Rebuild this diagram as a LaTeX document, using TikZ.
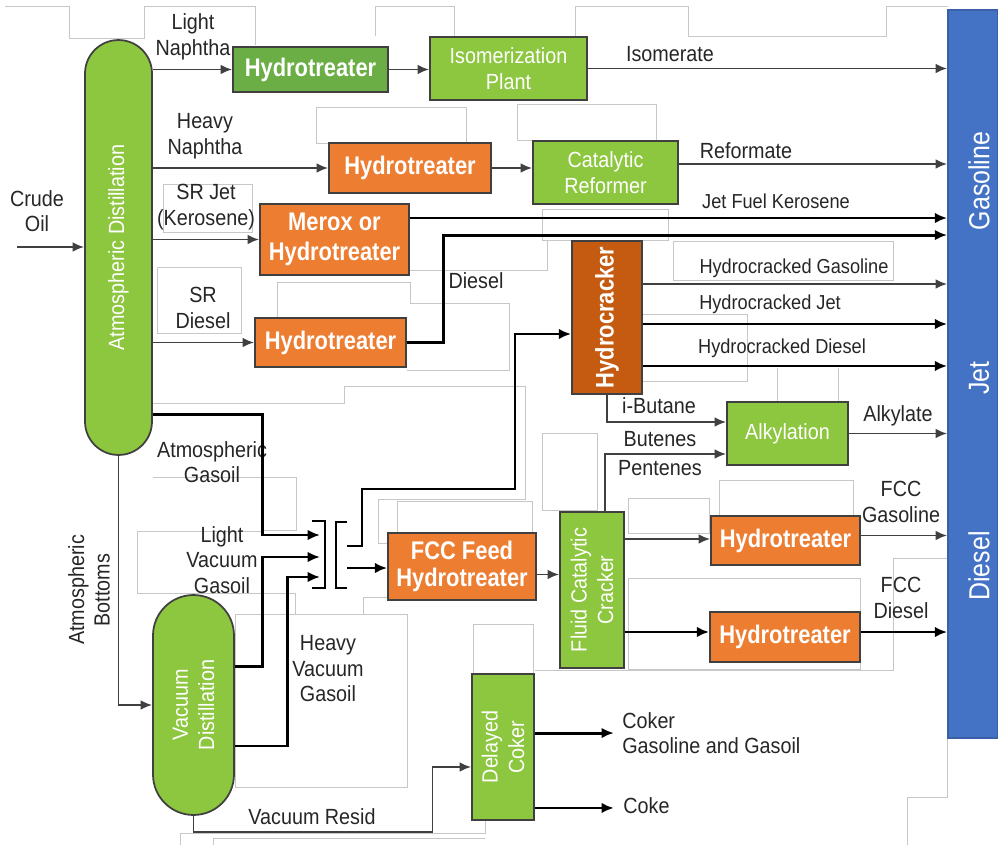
\documentclass[tikz,border=0pt]{standalone}
\usepackage{fontspec}
\setmainfont{Liberation Sans}[FakeStretch=0.9]
\newfontfamily\narrowfont{Liberation Sans}[FakeStretch=0.86]
\usetikzlibrary{arrows.meta}

\definecolor{procgreen}{HTML}{8DC63F}
\definecolor{htgreen}{HTML}{6AAE45}
\definecolor{procorange}{HTML}{ED7D31}
\definecolor{crackbrown}{HTML}{C55A11}
\definecolor{poolblue}{HTML}{4472C4}
\definecolor{edge}{HTML}{404040}

\tikzset{
  unit/.style={draw=edge, line width=1pt, inner sep=0pt, text=white, align=center},
  greenunit/.style={unit, fill=procgreen, font=\fontsize{12.5}{14.5}\selectfont},
  treater/.style={unit, fill=procorange, font=\narrowfont\bfseries\fontsize{14.5}{15.5}\selectfont},
  tower/.style={unit, fill=procgreen, rounded corners=#1},
  vtext/.style={rotate=90, align=center, text=white, font=\fontsize{12.5}{15}\selectfont},
  pooltext/.style={rotate=90, text=white, font=\narrowfont\fontsize{16.5}{18}\selectfont},
  lbl/.style={align=center, text=black!85, inner sep=0pt, font=\fontsize{12.5}{14.5}\selectfont},
  smalllbl/.style={lbl, font=\fontsize{11.5}{13}\selectfont},
  flow/.style={draw=edge, line width=1.1pt, -{Latex[length=6.5pt,width=5.5pt]}},
  mainflow/.style={draw=black, line width=1.7pt, -{Latex[length=7pt,width=6pt]}},
  ghost/.style={draw=black!22, line width=0.5pt},
}

\begin{document}
\begin{tikzpicture}[x=0.02cm, y=-0.02cm]
\useasboundingbox (0,0) rectangle (998,845);

% leftover text frames
\draw[ghost] (5,6) -- (69,6) -- (69,38) -- (144,38) -- (144,6) -- (255,6) -- (255,45);
\draw[ghost] (375,36) -- (375,6) -- (454,6) -- (454,36);
\draw[ghost] (575,36) -- (575,6) -- (688,6) -- (688,36) -- (886,36) -- (886,6) -- (948,6);
\draw[ghost] (316,107) rectangle (466,143);
\draw[ghost] (517,104) rectangle (656,140);
\draw[ghost] (163,184) rectangle (252,232);
\draw[ghost] (157,267) rectangle (241,333);
\draw[ghost] (277,318) -- (277,282) -- (410,282) -- (410,303) -- (509,303) -- (509,370) -- (407,370);
\draw[ghost] (542,209) rectangle (668,240);
\draw[ghost] (410,270) -- (547,270) -- (547,240);
\draw[ghost] (673,241) rectangle (893,280);
\draw[ghost] (642,314) rectangle (747,381);
\draw[ghost] (777,402) -- (777,368);
\draw[ghost] (838,368) -- (838,402);
\draw[ghost] (153,403) -- (344,403) -- (344,386) -- (525,386) -- (525,499) -- (378,499) -- (378,543) -- (388,543);
\draw[ghost] (397,533) -- (397,501) -- (532,501) -- (532,533);
\draw[ghost] (153,477) -- (296,477) -- (296,530) -- (262,530);
\draw[ghost] (262,531) -- (137,531) -- (137,593) -- (295,593) -- (295,614);
\draw[ghost] (235,614) rectangle (407,787);
\draw[ghost] (388,597) -- (363,597) -- (363,614);
\draw[ghost] (542,433) rectangle (597,510);
\draw[ghost] (628,498) rectangle (709,533);
\draw[ghost] (719,480) rectangle (853,516);
\draw[ghost] (628,578) rectangle (860,669);
\draw[ghost] (948,558) -- (893,558) -- (893,670) -- (535,670);
\draw[ghost] (473,674) -- (473,624) -- (533,624) -- (533,674);
\draw[ghost] (947,670) -- (947,797) -- (907,797) -- (907,845);
\draw[ghost] (180,845) -- (180,833) -- (485,833) -- (485,820);
\draw[ghost] (213,845) -- (213,838) -- (485,838);

% process units
\node[tower=0.669cm, minimum width=1.34cm, minimum height=8.3cm,
  label={[vtext]center:Atmospheric Distillation}] (atm) at (118.5,247.5) {};
\node[treater, fill=htgreen, minimum width=3.1cm, minimum height=0.9cm] (ht1) at (310.5,69.5) {Hydrotreater};
\node[greenunit, minimum width=3.14cm, minimum height=1.26cm] (isom) at (508.5,68.5) {Isomerization\\Plant};
\node[treater, minimum width=3.24cm, minimum height=1cm] (ht2) at (410,168) {Hydrotreater};
\node[greenunit, minimum width=2.9cm, minimum height=1.26cm] (reformer) at (605.5,172.5) {Catalytic\\Reformer};
\node[treater, font=\narrowfont\bfseries\fontsize{14.5}{17.5}\selectfont, minimum width=2.98cm, minimum height=1.42cm] (merox) at (334.5,239.5) {Merox or\\Hydrotreater};
\node[treater, minimum width=3.02cm, minimum height=0.98cm] (ht4) at (330.5,342.5) {Hydrotreater};
\node[treater, fill=crackbrown, minimum width=1.4cm, minimum height=3.06cm,
  label={[vtext, font=\narrowfont\bfseries\fontsize{14.5}{16}\selectfont]center:Hydrocracker}] (hcr) at (607,317.5) {};
\node[greenunit, minimum width=2.42cm, minimum height=1.26cm] (alk) at (787.5,433.5) {Alkylation};
\node[treater, minimum width=2.96cm, minimum height=1.34cm] (fccfeed) at (462,566.5) {FCC Feed\\Hydrotreater};
\node[unit, fill=procgreen, minimum width=1.28cm, minimum height=3.12cm,
  label={[vtext]center:Fluid Catalytic\\Cracker}] (fcc) at (592,590) {};
\node[treater, minimum width=2.98cm, minimum height=0.98cm] (htg) at (785.5,540.5) {Hydrotreater};
\node[treater, minimum width=3cm, minimum height=1cm] (htd) at (785,637) {Hydrotreater};
\node[tower=0.809cm, minimum width=1.62cm, minimum height=4.4cm,
  label={[vtext]center:Vacuum\\Distillation}] (vd) at (193.5,705) {};
\node[unit, fill=procgreen, minimum width=1.24cm, minimum height=2.92cm,
  label={[vtext]center:Delayed\\Coker}] (coker) at (503,747) {};
\node[unit, fill=poolblue, draw=poolblue!85!black, minimum width=1cm, minimum height=14.56cm] (pool) at (973,374) {};
\node[pooltext] (gasoline) at (979,181) {Gasoline};
\node[pooltext] (jet) at (979,378) {Jet};
\node[pooltext] (diesel) at (979,566) {Diesel};

% stream names
\node[lbl] (crudelbl) at (37,211) {Crude\\Oil};
\node[lbl] (lnlbl) at (193,37) {Light\\Naphtha};
\node[lbl] (hnlbl) at (205,136) {Heavy\\Naphtha};
\node[lbl] (srjlbl) at (206,207) {SR Jet\\(Kerosene)};
\node[lbl] (srdlbl) at (203,308) {SR\\Diesel};
\node[lbl] (agolbl) at (212,462) {Atmospheric\\Gasoil};
\node[lbl] (lvgolbl) at (222,560) {Light\\Vacuum\\Gasoil};
\node[lbl] (hvgolbl) at (328,669) {Heavy\\Vacuum\\Gasoil};
\node[lbl, rotate=90] (ablbl) at (89,590) {Atmospheric\\Bottoms};
\node[lbl] (vrlbl) at (312,817) {Vacuum Resid};
\node[lbl] (dsllbl) at (476,281) {Diesel};
\node[lbl] (isolbl) at (670,54) {Isomerate};
\node[lbl] (reflbl) at (746,151) {Reformate};
\node[smalllbl] (jetlbl) at (776,201) {Jet Fuel Kerosene};
\node[smalllbl] (hcglbl) at (794,268) {Hydrocracked Gasoline};
\node[smalllbl] (hcjlbl) at (770,304) {Hydrocracked Jet};
\node[smalllbl] (hcdlbl) at (782,348) {Hydrocracked Diesel};
\node[lbl] (iblbl) at (659,406) {i-Butane};
\node[lbl] (butlbl) at (660,439) {Butenes};
\node[lbl] (pentlbl) at (660,468) {Pentenes};
\node[lbl] (alklbl) at (898,416) {Alkylate};
\node[lbl] (fccglbl) at (901,502) {FCC\\Gasoline};
\node[lbl] (fccdlbl) at (901,598) {FCC\\Diesel};
\node[lbl, anchor=west, align=left] (cgglbl) at (622,733) {Coker\\Gasoline and Gasoil};
\node[lbl, anchor=west] (cokelbl) at (623,806) {Coke};

% gasoil collector
\coordinate (crude) at (17,247);
\coordinate (in1) at (320,535);
\coordinate (in2) at (320,557);
\coordinate (in3) at (320,577);
\coordinate (mixup) at (347,546);
\coordinate (mixout) at (347,568);
\draw[line width=1.7pt] (312,521) -- (325,521) -- (325,588) -- (312,588);
\draw[line width=1.7pt] (347,522) -- (336,522) -- (336,588) -- (347,588);

% streams
\draw[flow] (crude) -- (crude -| atm.west);
\draw[flow] (atm.east |- ht1.west) -- (ht1.west);
\draw[flow] (ht1.east) -- (ht1.east -| isom.west);
\draw[flow] (isom.east) -- (isom.east -| pool.west);
\draw[flow] (atm.east |- ht2.west) -- (ht2.west);
\draw[flow] (ht2.east) -- (ht2.east -| reformer.west);
\draw[flow] ([yshift=0.17cm]reformer.east) -- ([yshift=0.17cm]reformer.east -| pool.west);
\draw[flow] (atm.east |- merox.west) -- (merox.west);
\draw[mainflow] ([yshift=0.43cm]merox.east) -- ([yshift=0.43cm]merox.east -| pool.west);
\draw[flow] (atm.east |- ht4.west) -- (ht4.west);
\draw[mainflow] (ht4.east) -- ++(37,0) |- ([yshift=2.78cm]pool.west);
\draw[mainflow] ([yshift=0.82cm]atm.south east) -- ++(110,0) |- (in1);
\draw[mainflow] ([yshift=0.78cm]vd.east) -- ++(28,0) |- (in2);
\draw[mainflow] ([yshift=-0.82cm]vd.east) -- ++(53,0) |- (in3);
\draw[flow] (atm.south) |- (vd.west);
\draw[flow] (vd.south) -- ++(0,16) -- ++(239,0) |- ([yshift=-0.4cm]coker.west);
\draw[mainflow] ([yshift=0.28cm]coker.east) -- ++(79,0);
\draw[mainflow] ([yshift=-1.22cm]coker.east) -- ++(79,0);
\draw[mainflow] (mixout) -- (mixout -| fccfeed.west);
\draw[mainflow] (mixup) -- ++(15,0) |- (515,489) |- ([yshift=-0.33cm]hcr.west);
\draw[flow] ([yshift=-0.16cm]fccfeed.east) -- ([yshift=-0.16cm]fccfeed.east -| fcc.west);
\draw[flow] (hcr.south) |- ([yshift=0.23cm]alk.west);
\draw[flow] ([xshift=0.26cm]fcc.north) |- ([yshift=-0.41cm]alk.west);
\draw[flow] (alk.east) -- (alk.east -| pool.west);
\draw[flow] ([yshift=0.67cm]hcr.east) -- ([yshift=0.67cm]hcr.east -| pool.west);
\draw[mainflow] ([yshift=-0.13cm]hcr.east) -- ([yshift=-0.13cm]hcr.east -| pool.west);
\draw[mainflow] ([yshift=-0.97cm]hcr.east) -- ([yshift=-0.97cm]hcr.east -| pool.west);
\draw[flow] ([yshift=1.02cm]fcc.east) -- ([yshift=1.02cm]fcc.east -| htg.west);
\draw[flow] ([yshift=0.1cm]htg.east) -- ([yshift=0.1cm]htg.east -| pool.west);
\draw[mainflow] ([yshift=-0.84cm]fcc.east) -- ([yshift=-0.84cm]fcc.east -| htd.west);
\draw[mainflow] ([yshift=0.1cm]htd.east) -- ([yshift=0.1cm]htd.east -| pool.west);
\end{tikzpicture}
\end{document}
